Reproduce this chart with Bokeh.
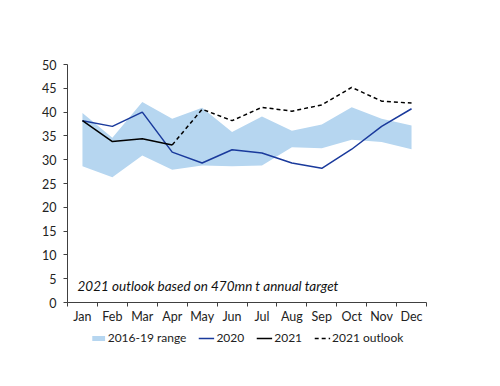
from bokeh.plotting import figure
from bokeh.layouts import column
from bokeh.models import (Range1d, FixedTicker, Legend, LegendItem, Label)
from bokeh.embed import file_html
from bokeh.resources import INLINE

months = ["Jan", "Feb", "Mar", "Apr", "May", "Jun", "Jul", "Aug", "Sep", "Oct", "Nov", "Dec"]
range_low = [28.6, 26.3, 30.9, 27.9, 28.8, 28.6, 28.8, 32.6, 32.4, 34.2, 33.7, 32.2]
range_high = [39.8, 34.6, 42.1, 38.6, 40.9, 35.8, 39.1, 36.1, 37.4, 41.0, 38.6, 37.2]
s2020 = [38.2, 37.0, 40.0, 31.6, 29.3, 32.1, 31.4, 29.3, 28.2, 32.2, 37.0, 40.7]
s2021 = [38.2, 33.8, 34.4, 33.1]
outlook_months = ["Apr", "May", "Jun", "Jul", "Aug", "Sep", "Oct", "Nov", "Dec"]
outlook = [33.1, 40.6, 38.2, 41.0, 40.2, 41.5, 45.2, 42.3, 41.9]
y_ticks = [0, 5, 10, 15, 20, 25, 30, 35, 40, 45, 50]
legend_labels = ["2016-19 range", "2020", "2021", "2021 outlook"]

pos = {m: i + 1 for i, m in enumerate(months)}
xs = [pos[m] for m in months]
x2021 = [pos[m] for m in months[:len(s2021)]]
xout = [pos[m] for m in outlook_months]

FONT = "Lato"
AX = "#404040"
BAND = "#b6d6f0"
BLUE = "#1a3a9c"


def draw_series(fig):
    rb = fig.varea(x=xs, y1=range_low, y2=range_high, fill_color=BAND, fill_alpha=1.0)
    r0 = fig.line(x=xs, y=s2020, line_color=BLUE, line_width=1.5)
    r1 = fig.line(x=x2021, y=s2021, line_color="black", line_width=1.5)
    r2 = fig.line(x=xout, y=outlook, line_color="black", line_width=1.5, line_dash="4 3")
    return [rb, r0, r1, r2]


p = figure(width=484, height=329, output_backend="svg", toolbar_location=None,
           x_range=Range1d(0.5, len(months) + 0.5), y_range=Range1d(y_ticks[0], y_ticks[-1]),
           min_border_left=67, min_border_right=58, min_border_top=64, min_border_bottom=27)
p.outline_line_color = None
p.xgrid.visible = False
p.ygrid.visible = False
p.background_fill_color = "white"
draw_series(p)

# x axis: labels at centres, ticks at boundaries
p.xaxis.ticker = FixedTicker(ticks=xs, minor_ticks=[x - 0.5 for x in xs] + [xs[-1] + 0.5])
p.xaxis.major_label_overrides = {x: m for x, m in zip(xs, months)}
p.xaxis.major_tick_out = 0
p.xaxis.major_tick_in = 0
p.xaxis.minor_tick_out = 4
p.xaxis.minor_tick_in = 0
p.xaxis.minor_tick_line_color = AX
p.xaxis.axis_line_color = AX
p.xaxis.major_label_standoff = 2
p.xaxis.major_label_text_font = FONT
p.xaxis.major_label_text_font_size = "12.5px"
p.xaxis.major_label_text_color = "#222222"

p.yaxis.ticker = FixedTicker(ticks=y_ticks)
p.yaxis.major_tick_out = 4
p.yaxis.major_tick_in = 0
p.yaxis.minor_tick_line_color = None
p.yaxis.major_tick_line_color = AX
p.yaxis.axis_line_color = AX
p.yaxis.major_label_standoff = 7
p.yaxis.major_label_text_font = FONT
p.yaxis.major_label_text_font_size = "12.5px"
p.yaxis.major_label_text_color = "#222222"

note = Label(x=10, y=17, x_units="screen", y_units="screen",
             text="2021 outlook based on 470mn t annual target",
             text_font=FONT, text_font_style="italic", text_font_size="13.5px",
             text_color="#111111", text_baseline="middle")
p.add_layout(note)

# legend in its own strip below the chart (series drawn outside its visible range)
lg = figure(width=484, height=41, output_backend="svg", toolbar_location=None,
            x_axis_type=None, y_axis_type=None, min_border=0,
            x_range=Range1d(-20, -10), y_range=Range1d(-20, -10))
lg.outline_line_color = None
lg.xgrid.visible = False
lg.ygrid.visible = False
lg_renderers = draw_series(lg)

legend = Legend(items=[LegendItem(label=t, renderers=[r])
                       for t, r in zip(legend_labels, lg_renderers)],
                orientation="horizontal", location="top",
                border_line_color=None, background_fill_alpha=0,
                glyph_width=16, glyph_height=6, label_standoff=2, spacing=12,
                padding=0, margin=1, label_text_font=FONT, label_text_font_size="12px",
                label_text_color="#222222", label_height=14)
lg.add_layout(legend)

open("out.html", "w").write(file_html(column(p, lg), INLINE))
